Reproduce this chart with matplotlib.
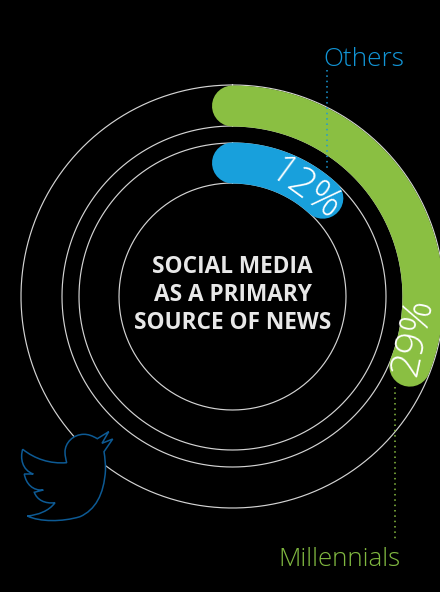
#!/usr/bin/env python3
"""Radial bars: social media as a primary source of news."""

import matplotlib
matplotlib.use("Agg")
import matplotlib.pyplot as plt
import numpy as np
from matplotlib.path import Path
from matplotlib.patches import PathPatch

# series
groups = ["Millennials", "Others"]
shares = [29, 12]
share_labels = ["29%", "12%"]
bar_radii = [190.5, 133.5]
ring_radii = [113.5, 153.5, 170.5, 211.5]

W, H = 440, 592
CX, CY = 232.5, 296.5
RMAX = 240
DEG_PER_PCT = 4.05
SWEEP_OFFSET = -6
BAR_PX = 41

BG = "#000000"
GREEN = "#8abf42"
BLUE = "#18a0dc"
RING = "#d4d4d4"
FONT = "Open Sans"

# twitter bird outline in pixel coordinates, one tuple per segment
bird_start = (108.7, 431.7)
bird_segments = [
    [(97.3, 438.7)],
    [(92, 435.5), (88, 434.3), (84, 434.3)],
    [(73, 434.3), (65, 443), (65, 452)],
    [(65, 456), (66, 460), (66.7, 462.7)],
    [(50, 464), (35, 459), (22.7, 449.3)],
    [(20, 458), (22, 470), (33.3, 474)],
    [(24.3, 474)],
    [(26, 484), (33, 491), (43.3, 490)],
    [(34.3, 492.3)],
    [(37, 500), (45, 504), (55, 502.7)],
    [(49, 511), (38, 515), (27.3, 516)],
    [(40, 522), (62, 522), (80, 516.7)],
    [(95, 510), (104, 495), (105.5, 470)],
    [(105.5, 463), (105, 458), (104, 451.7)],
    [(112.7, 439)],
    [(102, 443.3)],
    [bird_start],
]


def bird_path() -> Path:
    verts = [bird_start]
    codes = [Path.MOVETO]
    for seg in bird_segments:
        verts.extend(seg)
        codes.extend([Path.LINETO] if len(seg) == 1 else [Path.CURVE4] * 3)
    return Path(verts, codes)


def main() -> int:
    fig = plt.figure(figsize=(W / 100, H / 100), dpi=100, facecolor=BG)

    # polar axes sized so one radial unit is one pixel
    rect = [(CX - RMAX) / W, 1 - (CY + RMAX) / H, 2 * RMAX / W, 2 * RMAX / H]
    pol = fig.add_axes(rect, projection="polar")
    pol.set_theta_zero_location("N")
    pol.set_theta_direction(-1)
    pol.set_rlim(0, RMAX)
    pol.axis("off")

    ring_theta = np.linspace(0, 2 * np.pi, 361)
    for r in ring_radii:
        pol.plot(ring_theta, np.full_like(ring_theta, r), color=RING, lw=0.85, zorder=1, clip_on=False)

    for share, r, color in zip(shares, bar_radii, [GREEN, BLUE]):
        theta = np.radians(np.linspace(0, share * DEG_PER_PCT + SWEEP_OFFSET, 200))
        pol.plot(theta, np.full_like(theta, r), color=color, lw=BAR_PX * 0.72,
                 solid_capstyle="round", zorder=2, clip_on=False)

    # flat overlay for labels, leaders and the bird
    ax = fig.add_axes([0, 0, 1, 1])
    ax.set_xlim(0, W)
    ax.set_ylim(H, 0)
    ax.axis("off")
    ax.patch.set_alpha(0)

    ax.add_patch(PathPatch(bird_path(), facecolor=BG, edgecolor="#0d5a94", lw=1.1, zorder=3))

    ax.plot([327, 327], [70, 170], color="#1a9ad8", lw=1.1, ls=(0, (1, 2.5)), zorder=4)
    ax.plot([395, 395], [387, 541], color="#8abf42", lw=1.1, ls=(0, (1, 2.5)), zorder=4)

    ax.text(363.5, 60, groups[1], color="#1295d6", fontsize=18.8, fontfamily=FONT, fontweight=300,
            ha="center", va="center")
    ax.text(339, 559, groups[0], color="#80b840", fontsize=18.6, fontfamily=FONT, fontweight=300,
            ha="center", va="center")

    ax.text(304, 190, share_labels[1], color="white", fontsize=29, fontfamily=FONT, fontweight=300,
            rotation=-36, ha="center", va="center", rotation_mode="anchor")
    ax.text(414, 336, share_labels[0], color="white", fontsize=29, fontfamily=FONT, fontweight=300,
            rotation=78, ha="center", va="center", rotation_mode="anchor")

    title_lines = ["SOCIAL MEDIA", "AS A PRIMARY", "SOURCE OF NEWS"]
    for line, y in zip(title_lines, [267, 295, 323]):
        ax.text(232.5, y, line, color="#e8e8e8", fontsize=16.3, fontfamily=FONT, fontweight="bold",
                ha="center", va="center")

    fig.savefig("out.png", dpi=100, facecolor=BG)
    plt.close(fig)
    return 0


if __name__ == "__main__":
    raise SystemExit(main())
